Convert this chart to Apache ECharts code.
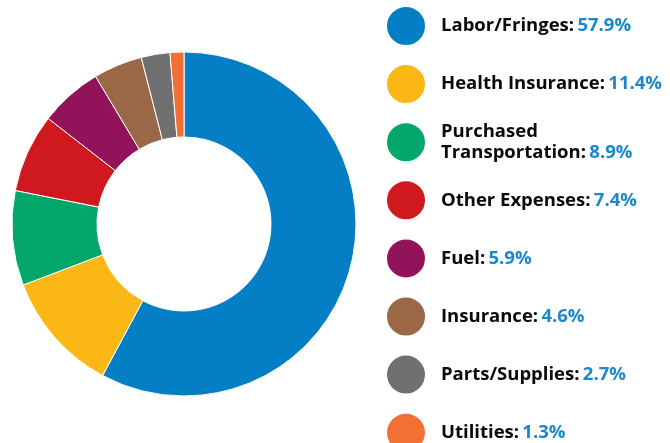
<!DOCTYPE html>
<html><head><meta charset="utf-8">
<script src="https://cdn.jsdelivr.net/npm/echarts@6/dist/echarts.min.js"></script>
<style>html,body{margin:0;padding:0;background:#fff}#c{width:670px;height:443px}</style>
</head><body><div id="c"></div>
<script>
const categories = ["Labor/Fringes", "Health Insurance", "Purchased\nTransportation", "Other Expenses", "Fuel", "Insurance", "Parts/Supplies", "Utilities"];
const values = [57.9, 11.4, 8.9, 7.4, 5.9, 4.6, 2.7, 1.3];
const colors = ["#047FC6", "#FBB715", "#02A769", "#D0191F", "#92135A", "#9A6846", "#707070", "#F37034"];

const chart = echarts.init(document.getElementById('c'));
const data = categories.map((c, i) => ({ name: c, value: values[i], itemStyle: { color: colors[i] } }));
const valueOf = {};
categories.forEach((c, i) => valueOf[c] = values[i]);

chart.setOption({
  animation: false,
  legend: {
    orient: 'vertical',
    left: 385,
    top: 5,
    height: 700,
    padding: 0,
    icon: 'circle',
    itemWidth: 40,
    itemHeight: 40,
    itemGap: 16.1,
    selectedMode: false,
    formatter: function (name) {
      const parts = name.split('\n');
      const last = parts.pop();
      const pre = parts.map(p => '{a|' + p + '}').join('\n');
      return (pre ? pre + '\n' : '') + '{a|' + last + ':} {b|' + valueOf[name].toFixed(1) + '%}';
    },
    textStyle: {
      padding: [0, 0, 0, 10],
      rich: {
        a: { fontFamily: 'Open Sans', fontWeight: 'bold', fontSize: 18.5, color: '#0a0a0a', lineHeight: 21 },
        b: { fontFamily: 'Open Sans', fontWeight: 'bold', fontSize: 18.5, color: '#1A88CB', lineHeight: 21 }
      }
    }
  },
  series: [{
    type: 'pie',
    center: [184, 224],
    radius: [87, 172],
    startAngle: 90,
    clockwise: true,
    label: { show: false },
    labelLine: { show: false },
    itemStyle: { borderColor: '#fff', borderWidth: 1 },
    data: data
  }]
});
</script></body></html>
